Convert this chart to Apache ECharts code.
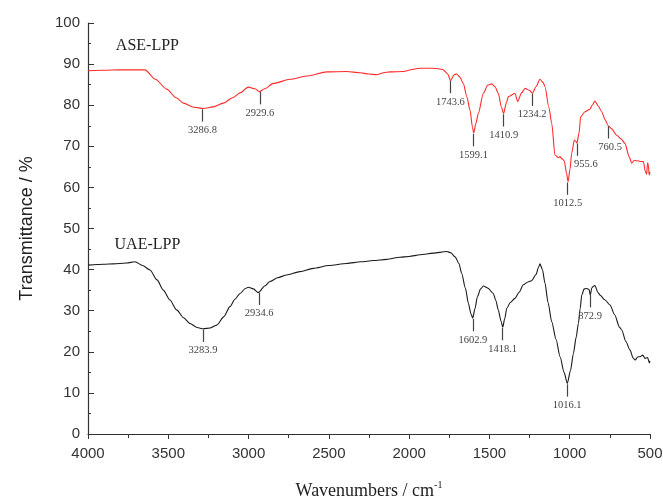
<!DOCTYPE html>
<html>
<head>
<meta charset="utf-8">
<script src="https://cdn.jsdelivr.net/npm/echarts@6/dist/echarts.min.js"></script>
<style>html,body{margin:0;padding:0;background:#fff;}#chart{width:663px;height:498px;}</style>
</head>
<body>
<div id="chart"></div>
<script>
// ASE-LPP spectrum (wavenumber, transmittance)
const aseWave = [4000,3900,3800,3700,3645,3580,3510,3450,3406,3340,3282,3220,3157,3100,3053,3002,2960,2933,2900,2846,2742,2638,2513,2389,2306,2250,2202,2160,2119,2036,1980,1932,1850,1790,1760,1742,1720,1704,1685,1663,1640,1621,1605,1598,1585,1569,1538,1510,1486,1465,1445,1425,1412,1395,1382,1341,1324,1300,1278,1250,1232,1210,1185,1165,1154,1130,1112,1092,1070,1060,1050,1034,1020,1010,998,988,971,962,955,942,932,905,874,860,843,822,801,780,760,740,707,680,656,630,614,598,583,560,541,530,521,515,510,505,500];
const aseT = [88.4,88.5,88.6,88.6,88.6,86.3,83.9,81.8,80.5,79.5,79.2,79.6,80.5,81.8,83.0,84.4,84.0,83.3,84.0,85.3,86.3,87.1,88.1,88.2,87.9,87.6,87.4,87.9,88.1,88.2,88.7,89.0,89.0,88.7,87.6,86.0,87.4,87.6,86.9,85.3,82.0,78.8,74.5,73.2,75.5,78.0,82.9,84.9,85.2,84.5,82.9,79.5,78.0,80.5,82.1,82.9,80.9,83.0,84.1,83.6,82.9,84.5,86.3,85.5,84.5,79.5,75.6,67.9,67.2,67.5,67.0,66.5,63.5,61.4,64.5,68.3,71.5,71.2,70.8,73.2,77.2,78.4,79.0,80.0,81.0,79.8,78.4,76.5,75.0,74.3,72.7,71.8,70.7,67.5,65.9,66.6,66.5,66.3,66.3,64.0,63.2,66.0,65.4,63.0,63.8];

// UAE-LPP spectrum
const uaeWave = [4000,3900,3842,3760,3707,3660,3614,3570,3531,3490,3448,3405,3365,3320,3282,3240,3198,3155,3116,3085,3053,3020,3002,2970,2939,2934,2900,2867,2820,2763,2680,2597,2500,2389,2300,2223,2140,2057,2000,1932,1850,1766,1740,1714,1690,1673,1650,1631,1615,1604,1590,1575,1555,1538,1510,1476,1460,1445,1428,1417,1405,1392,1370,1341,1315,1289,1260,1237,1210,1195,1185,1170,1154,1135,1112,1085,1060,1035,1015,995,977,960,946,935,925,910,894,880,872,862,850,843,825,811,780,749,720,690,676,650,624,605,593,575,562,545,531,515,504,500];
const uaeT = [41.1,41.3,41.4,41.6,41.9,41.0,39.9,37.5,35.0,32.6,30.2,28.3,26.9,25.9,25.6,25.8,26.5,28.5,31.0,32.8,34.2,35.4,35.7,35.3,34.4,34.6,36.0,37.1,38.0,38.7,39.5,40.3,41.0,41.5,41.9,42.2,42.5,43.0,43.2,43.6,44.0,44.4,44.1,43.1,41.5,39.1,35.5,31.8,29.2,28.2,30.5,33.4,35.3,36.0,35.5,34.2,32.5,30.2,27.5,26.0,28.0,30.6,32.0,33.0,34.5,36.3,37.0,37.3,38.8,40.5,41.4,40.0,36.7,32.0,27.3,23.0,18.8,15.0,12.3,15.5,19.6,23.5,26.9,30.5,33.8,35.3,35.4,35.2,33.8,35.6,36.0,36.1,34.5,33.8,32.6,31.4,29.0,26.0,25.3,22.5,20.4,18.5,18.0,18.8,18.8,19.2,18.4,18.6,17.3,17.8];

// Peak annotations
const asePeakWave = [3286.8, 2929.6, 1743.6, 1599.1, 1410.9, 1234.2, 1012.5, 955.6, 760.5];
const asePeakT    = [79.0, 83.2, 85.9, 73.0, 77.8, 82.8, 61.2, 70.7, 74.9];
const uaePeakWave = [3283.9, 2934.6, 1602.9, 1418.1, 1016.1, 872.9];
const uaePeakT    = [25.4, 34.4, 28.0, 25.8, 12.1, 33.8];

// Series names and their label anchor (in data units)
const seriesNames = ['ASE-LPP', 'UAE-LPP'];
const nameAnchorWave = [3630, 3630];
const nameAnchorT = [94.4, 46];

// Axis ticks
const xTicks = [4000, 3500, 3000, 2500, 2000, 1500, 1000, 500];
const yTicks = [0, 10, 20, 30, 40, 50, 60, 70, 80, 90, 100];

const TICK_LEN = 3;
// label nudges (pixels) for crowded annotations, keyed by the label text
const labelNudge = { '955.6': [9, 0], '760.5': [2, 0] };

function peakLines(waves, ts) {
  return waves.map((w, i) => {
    const txt = w.toFixed(1);
    const lab = { formatter: txt };
    if (labelNudge[txt]) lab.offset = labelNudge[txt];
    return [
      { coord: [w, ts[i]] },
      { coord: [w, ts[i] - TICK_LEN], label: lab }
    ];
  });
}
function zip(a, b) { return a.map((v, i) => [v, b[i]]); }

const chart = echarts.init(document.getElementById('chart'));
const annoLabel = {
  show: true, position: 'end', distance: 3,
  fontFamily: 'Liberation Serif', fontSize: 10.5, color: '#444'
};
const seriesColors = ['#ff2a2a', '#1a1a1a'];

function nameMark(i) {
  return {
    silent: true, symbol: 'rect', symbolSize: 1,
    itemStyle: { color: 'rgba(0,0,0,0)' },
    label: { show: true, position: 'inside', formatter: seriesNames[i],
      fontFamily: 'Liberation Serif', fontSize: 16, color: '#222' },
    data: [{ coord: [nameAnchorWave[i], nameAnchorT[i]] }]
  };
}

const option = {
  animation: false,
  backgroundColor: '#fff',
  grid: { left: 88, right: 13, top: 23, bottom: 64, containLabel: false, outerBoundsMode: 'none' },
  xAxis: {
    type: 'value', inverse: true, min: 500, max: 4000, interval: 500,
    name: 'Wavenumbers / cm{sup|-1}', nameLocation: 'middle', nameGap: 46,
    nameTextStyle: {
      fontFamily: 'Liberation Serif', fontSize: 18, color: '#222',
      rich: { sup: { fontFamily: 'Liberation Serif', fontSize: 10, verticalAlign: 'top', padding: [0, 0, 12, 0], color: '#222' } }
    },
    axisLine: { show: true, lineStyle: { color: '#333', width: 1.2 } },
    axisTick: { show: true, inside: false, length: 5, lineStyle: { color: '#333' } },
    minorTick: { show: true, splitNumber: 2, length: 4, lineStyle: { color: '#333' } },
    splitLine: { show: false },
    axisLabel: { fontFamily: 'Liberation Sans', fontSize: 15, color: '#333', margin: 12,
      formatter: v => xTicks.indexOf(v) >= 0 ? String(v) : '' }
  },
  yAxis: {
    type: 'value', min: 0, max: 100, interval: 10,
    name: 'Transmittance / %', nameLocation: 'middle', nameGap: 52,
    nameTextStyle: { fontFamily: 'Liberation Sans', fontSize: 18, color: '#222' },
    axisLine: { show: true, lineStyle: { color: '#333', width: 1.2 } },
    axisTick: { show: true, inside: true, length: 6, lineStyle: { color: '#333' } },
    minorTick: { show: true, splitNumber: 2, length: 3, lineStyle: { color: '#333' } },
    splitLine: { show: false },
    axisLabel: { fontFamily: 'Liberation Sans', fontSize: 15, color: '#333', margin: 8,
      formatter: v => yTicks.indexOf(v) >= 0 ? String(v) : '' }
  },
  series: [
    {
      name: seriesNames[0], type: 'line', data: zip(aseWave, aseT),
      showSymbol: false, symbol: 'none', smooth: 0.25, smoothMonotone: 'x',
      lineStyle: { color: seriesColors[0], width: 1.1 },
      markLine: {
        silent: true, symbol: ['none', 'none'],
        lineStyle: { color: '#444', width: 1.2, type: 'solid' },
        label: annoLabel,
        data: peakLines(asePeakWave, asePeakT)
      },
      markPoint: nameMark(0)
    },
    {
      name: seriesNames[1], type: 'line', data: zip(uaeWave, uaeT),
      showSymbol: false, symbol: 'none', smooth: 0.25, smoothMonotone: 'x',
      lineStyle: { color: seriesColors[1], width: 1.1 },
      markLine: {
        silent: true, symbol: ['none', 'none'],
        lineStyle: { color: '#444', width: 1.2, type: 'solid' },
        label: annoLabel,
        data: peakLines(uaePeakWave, uaePeakT)
      },
      markPoint: nameMark(1)
    }
  ]
};
chart.setOption(option);
</script>
</body>
</html>
